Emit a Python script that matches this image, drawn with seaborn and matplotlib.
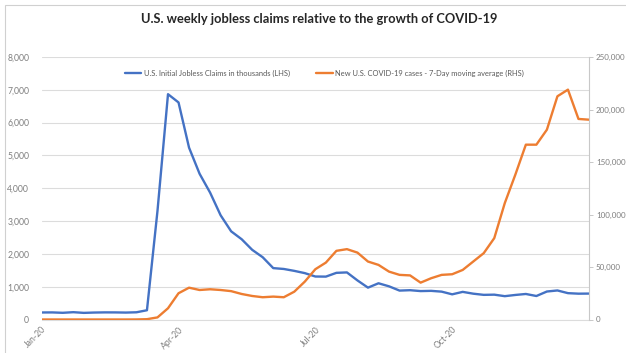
import matplotlib
matplotlib.use("Agg")
import matplotlib.pyplot as plt
from matplotlib.patches import Rectangle
from matplotlib.ticker import FuncFormatter
import numpy as np
import pandas as pd
import seaborn as sns

# Weekly series, week ending Saturday
week_start = "2020-01-04"
n_weeks = 53

# U.S. initial jobless claims, thousands
jobless_claims = [214, 216, 204, 223, 202, 212, 217, 216, 211, 220, 282, 3307,
                  6867, 6615, 5237, 4442, 3867, 3176, 2687, 2446, 2123, 1897,
                  1566, 1540, 1482, 1413, 1310, 1307, 1422, 1435, 1191, 971,
                  1104, 1011, 881, 893, 866, 873, 849, 767, 842, 787, 751,
                  757, 711, 748, 778, 716, 853, 885, 803, 787, 790]

# New U.S. COVID-19 cases, 7-day moving average
covid_cases = [0, 0, 0, 0, 0, 0, 0, 0, 0, 50, 300, 2000,
               10700, 25000, 30300, 28100, 28800, 28100, 27000, 24300, 22400,
               21200, 21800, 21200, 26500, 36100, 47900, 54200, 65400, 67000,
               63700, 55200, 52000, 45600, 42500, 42000, 35100, 39300, 42500,
               43100, 47200, 55200, 63200, 77500, 110900, 137900, 166500,
               166500, 180800, 212600, 218900, 191000, 190300]

tick_weeks = [0, 13, 26, 39]
tick_labels = ["Jan-20", "Apr-20", "Jul-20", "Oct-20"]

claims_label = "U.S. Initial Jobless Claims in thousands (LHS)"
cases_label = "New U.S. COVID-19 cases - 7-Day moving average (RHS)"
title = "U.S. weekly jobless claims relative to the growth of COVID-19"

dates = pd.date_range(week_start, periods=n_weeks, freq="7D")
df = pd.DataFrame({"date": dates, "claims": jobless_claims, "cases": covid_cases})

sns.set_style("white")
plt.rcParams["font.family"] = ["Lato", "DejaVu Sans"]

BLUE = "#4472C4"
ORANGE = "#ED7D31"
TICK = "#7f7f7f"
GRID = "#dcdcdc"

fig = plt.figure(figsize=(6.26, 3.53), dpi=100)
fig.patch.set_facecolor("white")

# chart-area frame
fig.patches.append(Rectangle((5 / 626, -0.02), 1.0, 1 - 5 / 353 + 0.02,
                             transform=fig.transFigure, fill=False,
                             edgecolor="#d0d0d0", lw=0.8))

ax = fig.add_axes([41.7 / 626, 1 - 319.5 / 353, (589 - 41.7) / 626, (319.5 - 57) / 353])
ax2 = ax.twinx()

sns.lineplot(data=df, x="date", y="claims", ax=ax, color=BLUE, lw=1.7,
             label=claims_label, legend=False)
sns.lineplot(data=df, x="date", y="cases", ax=ax2, color=ORANGE, lw=1.7,
             label=cases_label, legend=False)

ax.set_xlim(dates[0], dates[-1])
ax.set_ylim(0, 8000)
ax2.set_ylim(0, 250000)
ax.set_yticks(np.arange(0, 8001, 1000))
ax2.set_yticks(np.arange(0, 250001, 50000))
ax.yaxis.set_major_formatter(FuncFormatter(lambda v, p: f"{int(v):,}"))
ax2.yaxis.set_major_formatter(FuncFormatter(lambda v, p: f"{int(v):,}"))

ax.set_xticks([dates[i] for i in tick_weeks])
ax.set_xticklabels(tick_labels)
for lbl in ax.get_xticklabels():
    lbl.set_rotation(45)
    lbl.set_ha("right")
    lbl.set_rotation_mode("anchor")

ax.grid(axis="y", color=GRID, lw=0.8)
ax.grid(axis="x", visible=False)
ax.set_axisbelow(True)
ax.set_xlabel("")
ax.set_ylabel("")
ax2.set_ylabel("")

for s in ["top", "left", "right"]:
    ax.spines[s].set_visible(False)
ax.spines["bottom"].set_color(GRID)
ax.spines["bottom"].set_linewidth(0.8)
for s in ["top", "left", "bottom"]:
    ax2.spines[s].set_visible(False)
ax2.spines["right"].set_color("#c8c8c8")
ax2.spines["right"].set_linewidth(0.8)

ax.tick_params(axis="y", length=0, pad=9, labelsize=6.2, labelcolor=TICK)
ax.tick_params(axis="x", length=0, pad=4, labelsize=6.2, labelcolor=TICK)
ax2.tick_params(axis="y", length=3, width=0.7, color="#c8c8c8", pad=2,
                labelsize=5.8, labelcolor=TICK)

handles = ax.get_lines()[:1] + ax2.get_lines()[:1]
leg = ax.legend(handles, [claims_label, cases_label], loc="center",
                bbox_to_anchor=(0.518, 1 - 73 / 353), bbox_transform=fig.transFigure,
                ncol=2, frameon=False, fontsize=5.4, handlelength=2.2,
                handletextpad=0.3, columnspacing=3.5)
for t in leg.get_texts():
    t.set_color("#595959")

fig.text(0.51, 1 - 19 / 353, title, ha="center", va="center",
         fontsize=9.3, fontweight="bold", color="#262626")

fig.savefig("out.png", dpi=100, facecolor="white")
